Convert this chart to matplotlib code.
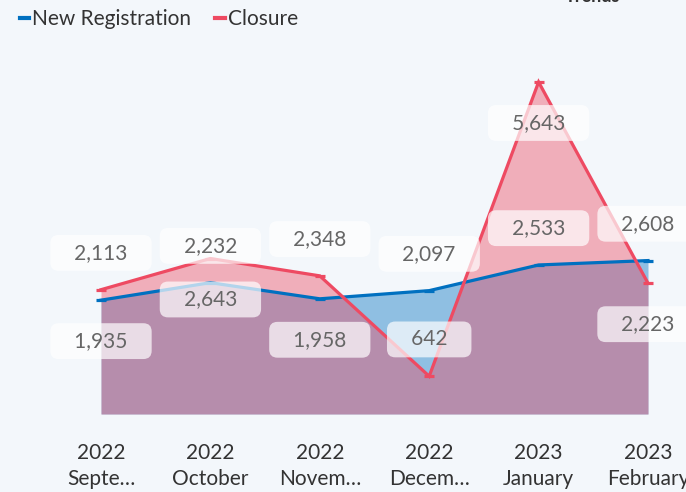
import numpy as np
import matplotlib.pyplot as plt
from matplotlib.lines import Line2D

# -----------------------------------
# DATA
# -----------------------------------

months = ["2022\nSepte…", "2022\nOctober", "2022\nNovem…",
          "2022\nDecem…", "2023\nJanuary", "2023\nFebruary"]
new_registration = [1935, 2232, 1958, 2097, 2533, 2608]
closure = [2113, 2643, 2348, 642, 5643, 2223]

# label side per point: +1 above, -1 below
reg_side = [-1, 1, -1, 1, 1, 1]
clo_side = [1, -1, 1, 1, -1, -1]

BLUE = "#0070C0"
RED = "#EE4A62"
BG = "#F3F7FB"

plt.rcParams["font.family"] = ["Lato", "DejaVu Sans"]

# -----------------------------------
# FIGURE
# -----------------------------------

fig = plt.figure(figsize=(6.86, 4.92), dpi=100, facecolor=BG)
ax = fig.add_axes([101 / 686, 78 / 492, 547 / 686, 353 / 492])
ax.set_facecolor(BG)

x = np.arange(len(months))

ax.fill_between(x, 0, new_registration, color=BLUE, alpha=0.41, lw=0)
ax.fill_between(x, 0, closure, color=RED, alpha=0.42, lw=0)

ax.plot(x, new_registration, color=BLUE, lw=2.3, marker="_",
        markersize=7, mew=2.3, solid_joinstyle="miter", clip_on=False)
ax.plot(x, closure, color=RED, lw=2.3, marker="_",
        markersize=7, mew=2.3, solid_joinstyle="miter", clip_on=False)

# data labels
box = dict(boxstyle="round,pad=0.38,rounding_size=0.4", fc="white",
           ec="none", alpha=0.7)
for i in x:
    for vals, side in ((new_registration, reg_side), (closure, clo_side)):
        ax.annotate("   " + f"{vals[i]:,}" + "   ", (i, vals[i]),
                    xytext=(0, 28 * side[i] - 1.5), textcoords="offset points",
                    ha="center", va="center", fontsize=15, color="#666666",
                    bbox=box, annotation_clip=False, zorder=5)

ax.set_xlim(0, 5)
ax.set_ylim(0, 6000)
ax.set_xticks(x)
ax.set_xticklabels(months, fontsize=15, color="#333333", linespacing=1.35)
ax.tick_params(axis="x", length=0, pad=21)
ax.set_yticks([])
for s in ax.spines.values():
    s.set_visible(False)

# legend
handles = [Line2D([], [], color=BLUE, lw=3),
           Line2D([], [], color=RED, lw=3)]
fig.legend(handles, ["New Registration", "Closure"], loc="upper left",
           bbox_to_anchor=(20 / 686, 1 - 9 / 492), ncol=2, frameon=False,
           fontsize=15, handlelength=0.45, handletextpad=0.15,
           columnspacing=1.15, borderpad=0, borderaxespad=0,
           labelcolor="#333333")

# title cut off at the top edge
fig.text(565 / 686, 1 - 2 / 492, "Trends", fontsize=13, fontweight="bold",
         color="#333333", va="baseline")

fig.savefig("out.png", dpi=100, facecolor=BG)
